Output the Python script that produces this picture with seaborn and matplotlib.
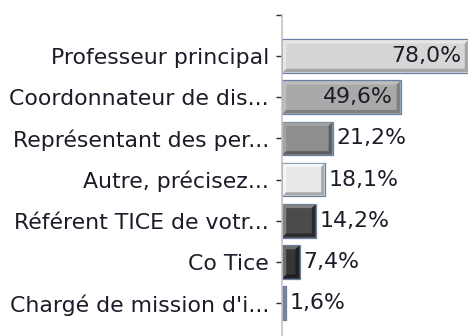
import matplotlib
matplotlib.use("Agg")
import matplotlib.pyplot as plt
from matplotlib.patches import Polygon
import seaborn as sns
import pandas as pd

# Survey answers (share of respondents, %)
categories = [
    "Professeur principal",
    "Coordonnateur de dis...",
    "Représentant des per...",
    "Autre, précisez...",
    "Référent TICE de votr...",
    "Co Tice",
    "Chargé de mission d'i...",
]
values = [78.0, 49.6, 21.2, 18.1, 14.2, 7.4, 1.6]

# Face / highlight / shadow tones of each bevelled bar
face_colors = ["#d6d6d6", "#a9a9a9", "#8e8e8e", "#e8e8e8", "#4b4b4b", "#363636", "#7c8494"]
light_colors = ["#e6e6e6", "#bdbdbd", "#a3a3a3", "#f5f5f5", "#828282", "#6e6e6e", "#7c8494"]
dark_colors = ["#a6a6a6", "#7f7f7f", "#5e5e5e", "#a9a9a9", "#2a2a2a", "#1e1e1e", "#7c8494"]

df = pd.DataFrame({"category": categories, "value": values})

sns.set_style("white")
plt.rcParams["font.family"] = ["DejaVu Sans"]

fig = plt.figure(figsize=(4.68, 3.36), dpi=100)
ax = fig.add_axes([282 / 468, 0.0, 1 - 282 / 468, (336 - 15) / 336])

sns.barplot(
    data=df, x="value", y="category", hue="category", palette=face_colors,
    order=categories, hue_order=categories, legend=False, orient="h",
    width=0.82, edgecolor="#6682a4", linewidth=0.9, saturation=1, ax=ax,
)

ax.set_xlim(0, 77.6)
ax.set_ylim(6.8, -1)

# Axis styling: light spine, dark ticks, no x axis
for side in ["top", "right", "bottom"]:
    ax.spines[side].set_visible(False)
ax.spines["left"].set_color("#c4c4c4")
ax.spines["left"].set_linewidth(1.2)
ax.set_xticks([])
ax.set_xlabel("")
ax.set_ylabel("")
ax.set_yticks([-1] + list(range(len(categories))), [""] + categories)
ax.tick_params(axis="y", left=True, length=4.3, width=1.0, color="#2b2b2b",
               pad=5, labelsize=15.8, labelcolor="#1c1c28")

# Bevel shading drawn inside each bar outline
fig.canvas.draw()
inv = ax.transData.inverted()
for patch, lc, dc in zip(ax.patches, light_colors, dark_colors):
    x0, y0 = patch.get_x(), patch.get_y()
    x1, y1 = x0 + patch.get_width(), y0 + patch.get_height()
    (ax0, ay0), (ax1, ay1) = ax.transData.transform([(x0, y0), (x1, y1)])
    L, R = min(ax0, ax1), max(ax0, ax1)
    B, T = min(ay0, ay1), max(ay0, ay1)
    e = 1.0
    L, R, B, T = L + e, R - e, B + e, T - e
    b = min(3.2, (R - L) / 3.5)
    if b < 1.0:
        continue
    light = [(L, B), (L, T), (R, T), (R - b, T - b), (L + b, T - b), (L + b, B + b)]
    dark = [(L, B), (R, B), (R, T), (R - b, T - b), (R - b, B + b), (L + b, B + b)]
    for pts, col in ((light, lc), (dark, dc)):
        ax.add_patch(Polygon(inv.transform(pts), closed=True, facecolor=col,
                             edgecolor="none", zorder=patch.get_zorder() + 0.1))

# Value labels: inside wide bars, just after the others
for i, v in enumerate(values):
    label = f"{v:.1f}".replace(".", ",") + "%"
    if v > 40:
        ax.annotate(label, (v, i), xytext=(-5.5, 0), textcoords="offset points",
                    ha="right", va="center", fontsize=15.8, color="#1c1c28",
                    annotation_clip=False, zorder=5)
    else:
        ax.annotate(label, (v, i), xytext=(2.5, 0), textcoords="offset points",
                    ha="left", va="center", fontsize=15.8, color="#1c1c28",
                    annotation_clip=False, zorder=5)

fig.savefig("out.png", dpi=100)
